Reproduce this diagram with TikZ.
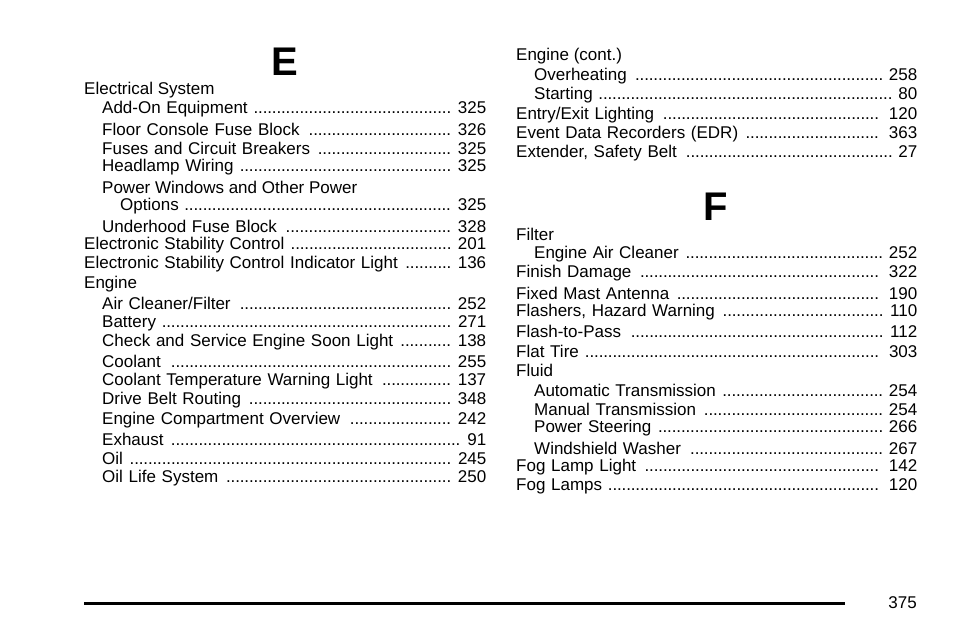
\documentclass[tikz,border=0pt]{standalone}
\usepackage{fontspec}
\setmainfont{Liberation Sans}
\newcommand{\dotlead}{\leaders\hbox to 0.27em{\hss.\hss}\hfill}
\newcommand{\ent}[4]{\node[anchor=west,inner sep=0pt,text width={486pt-#1pt}] (n#1#2) at (#1,#2) {#3\ \dotlead\ #4};}
\newcommand{\entr}[4]{\node[anchor=west,inner sep=0pt,text width={917pt-#1pt}] (r#1#2) at (#1,#2) {#3\ \dotlead\ #4};}
\newcommand{\hd}[3]{\node[anchor=west,inner sep=0pt] (h#1#2) at (#1,#2) {#3};}
\begin{document}
\begin{tikzpicture}[x=1pt,y=-1pt,every node/.style={font=\fontsize{17}{19}\selectfont}]
\useasboundingbox[fill=white] (0,0) rectangle (954,636);
\node[inner sep=0pt,font=\fontsize{40}{40}\selectfont\bfseries] (E) at (285,62) {E};
\node[inner sep=0pt,font=\fontsize{40}{40}\selectfont\bfseries] (F) at (716,207) {F};
\hd{84}{90}{Electrical System}
\ent{102}{109}{Add-On Equipment}{325}
\ent{102}{129}{Floor Console Fuse Block}{326}
\ent{102}{148}{Fuses and Circuit Breakers}{325}
\ent{102}{167}{Headlamp Wiring}{325}
\hd{102}{187}{Power Windows and Other Power}
\ent{120}{206}{Options}{325}
\ent{102}{226}{Underhood Fuse Block}{328}
\ent{84}{245}{Electronic Stability Control}{201}
\ent{84}{264}{Electronic Stability Control Indicator Light}{136}
\hd{84}{284}{Engine}
\ent{102}{303}{Air Cleaner/Filter}{252}
\ent{102}{323}{Battery}{271}
\ent{102}{342}{Check and Service Engine Soon Light}{138}
\ent{102}{361}{Coolant}{255}
\ent{102}{381}{Coolant Temperature Warning Light}{137}
\ent{102}{400}{Drive Belt Routing}{348}
\ent{102}{420}{Engine Compartment Overview}{242}
\ent{102}{439}{Exhaust}{91}
\ent{102}{458}{Oil}{245}
\ent{102}{478}{Oil Life System}{250}
\hd{516}{56}{Engine (cont.)}
\entr{534}{76}{Overheating}{258}
\entr{534}{95}{Starting}{80}
\entr{516}{115}{Entry/Exit Lighting}{120}
\entr{516}{134}{Event Data Recorders (EDR)}{363}
\entr{516}{153}{Extender, Safety Belt}{27}
\hd{516}{234}{Filter}
\entr{534}{254}{Engine Air Cleaner}{252}
\entr{516}{273}{Finish Damage}{322}
\entr{516}{293}{Fixed Mast Antenna}{190}
\entr{516}{312}{Flashers, Hazard Warning}{110}
\entr{516}{331}{Flash-to-Pass}{112}
\entr{516}{351}{Flat Tire}{303}
\hd{516}{370}{Fluid}
\entr{534}{390}{Automatic Transmission}{254}
\entr{534}{409}{Manual Transmission}{254}
\entr{534}{428}{Power Steering}{266}
\entr{534}{448}{Windshield Washer}{267}
\entr{516}{467}{Fog Lamp Light}{142}
\entr{516}{486}{Fog Lamps}{120}
\draw[line width=3pt] (84,603) -- (845,603);
\node[anchor=east,inner sep=0pt] (pg) at (917,603) {375};
\end{tikzpicture}
\end{document}
